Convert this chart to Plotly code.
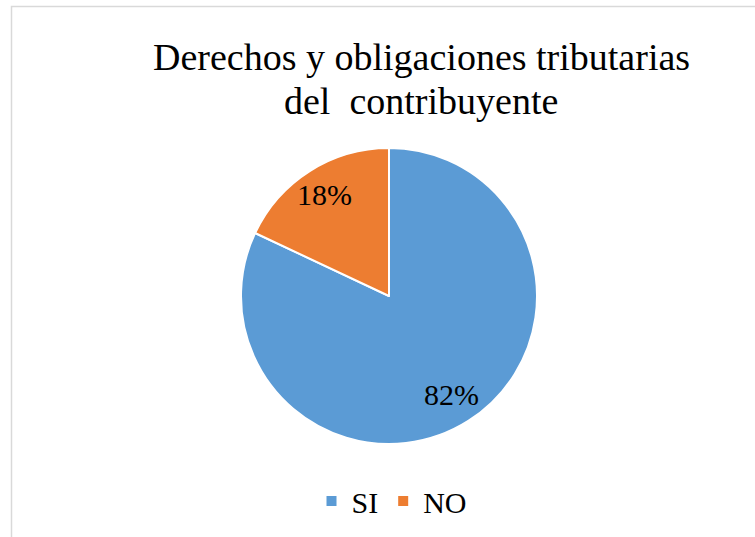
import math
import plotly.graph_objects as go

labels = ["SI", "NO"]
values = [82, 18]
colors = ["#5B9BD5", "#ED7D31"]
title_lines = ["Derechos y obligaciones tributarias", "del  contribuyente"]

W, H = 755, 537
font = "Liberation Serif, Times New Roman, serif"

# pie geometry (pixels)
cx, cy, R = 389, 296, 148

fig = go.Figure(go.Pie(
    labels=labels, values=values, sort=False, direction="clockwise", rotation=0,
    marker=dict(colors=colors, line=dict(color="white", width=2)),
    textinfo="none",
    domain=dict(x=[(cx-R)/W, (cx+R)/W], y=[1-(cy+R)/H, 1-(cy-R)/H]),
    hoverinfo="label+percent",
))

annotations = []
# percentage labels placed along each slice's mid-angle
total = sum(values)
start = 0.0
radial = [0.79, 0.81]
for v, rf in zip(values, radial):
    frac = v / total
    mid = (start + frac / 2) * 2 * math.pi
    start += frac
    r = rf * R
    px = cx + r * math.sin(mid)
    py = cy - r * math.cos(mid)
    annotations.append(dict(text=f"{round(frac*100)}%", x=px/W, y=1-py/H, xref="paper", yref="paper",
                            xanchor="center", yanchor="middle", showarrow=False,
                            font=dict(family=font, size=30, color="black")))

title_y = [57, 101]
for line, ty in zip(title_lines, title_y):
    annotations.append(dict(text=line, x=421/W, y=1-ty/H, xref="paper", yref="paper",
                            xanchor="center", yanchor="middle", showarrow=False,
                            font=dict(family=font, size=38, color="black")))

fig.update_layout(
    width=W, height=H, margin=dict(l=0, r=0, t=0, b=0),
    paper_bgcolor="white", plot_bgcolor="white",
    showlegend=True,
    legend=dict(orientation="h", x=392/W, xanchor="center", y=1-501/H, yanchor="middle",
                font=dict(family=font, size=30, color="black"),
                traceorder="normal", itemclick=False),
    annotations=annotations,
    shapes=[dict(type="rect", xref="paper", yref="paper", x0=11.5/W, x1=1.1, y0=-0.1, y1=1-6.5/H,
                 line=dict(color="#D9D9D9", width=1.5))],
)

fig.write_html("out.html", config={"displayModeBar": False},
               post_script="document.body.style.margin='0';")
